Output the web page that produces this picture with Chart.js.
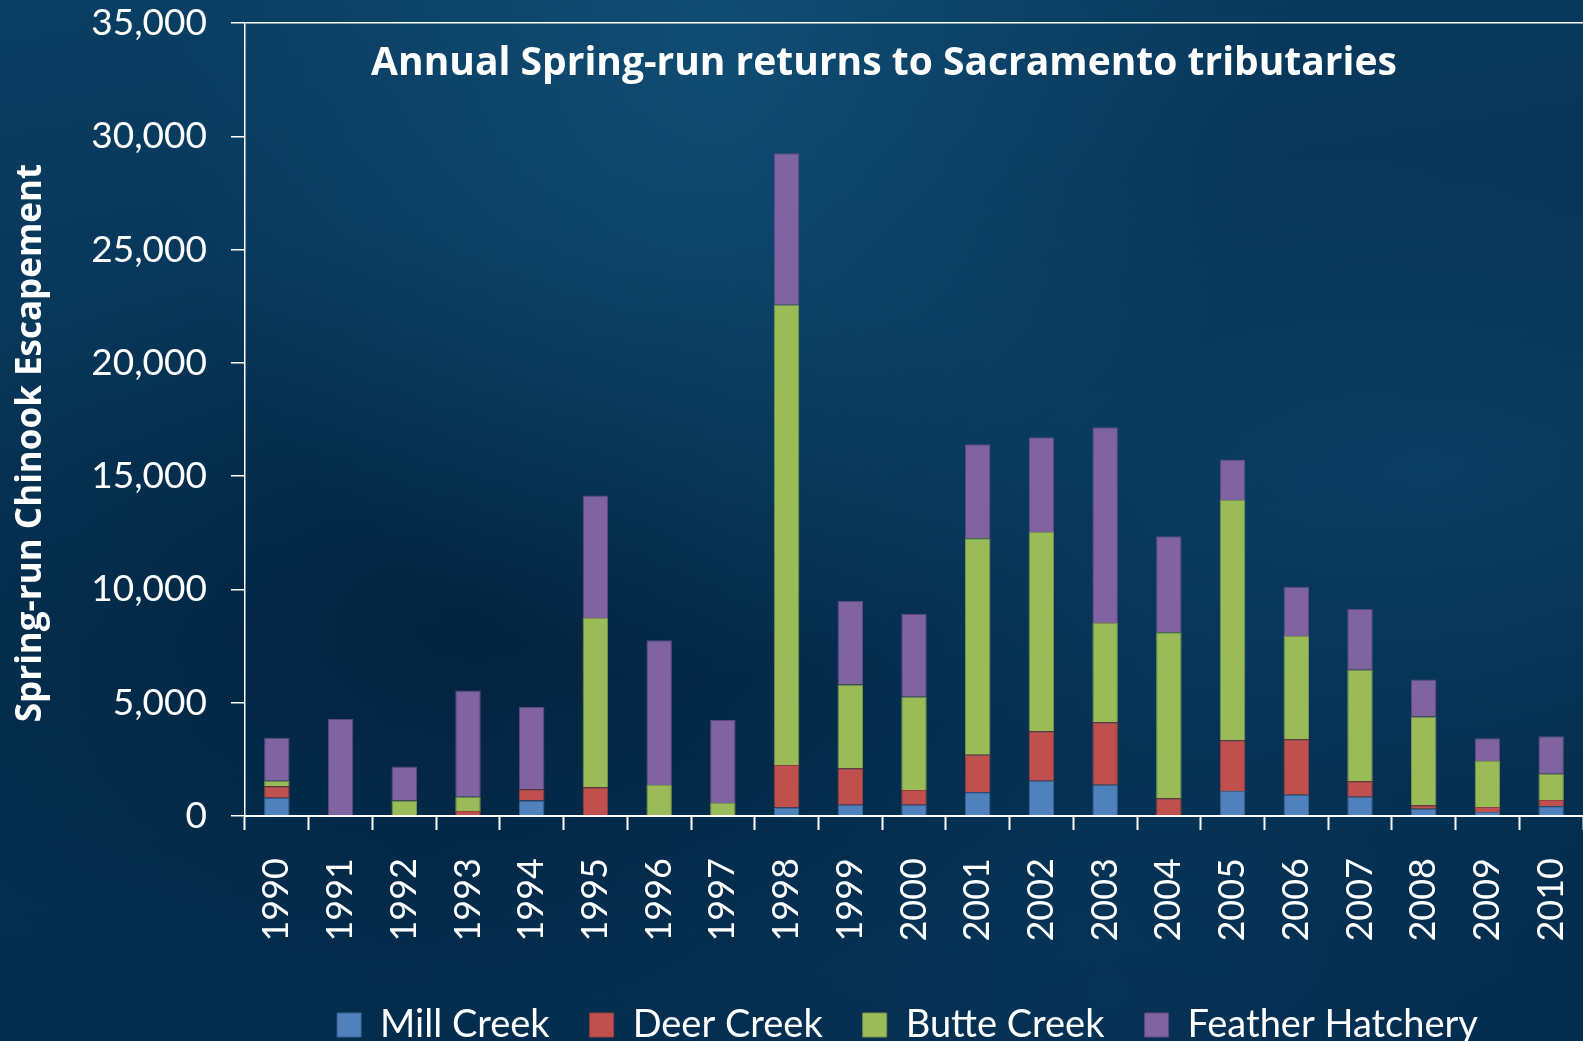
<!DOCTYPE html>
<html>
<head>
<meta charset="utf-8">
<script src="https://cdn.jsdelivr.net/npm/chart.js@4.4.1/dist/chart.umd.min.js"></script>
<style>
    html, body { margin: 0; padding: 0; }
    body {
        width: 1583px; height: 1041px; overflow: hidden;
        background:
            radial-gradient(ellipse at 45% 5%, rgba(20, 85, 125, 0.65), rgba(0,0,0,0) 45%),
            radial-gradient(ellipse at 90% 45%, rgba(15, 75, 115, 0.5), rgba(0,0,0,0) 40%),
            radial-gradient(ellipse at 30% 60%, rgba(0, 25, 50, 0.55), rgba(0,0,0,0) 45%),
            radial-gradient(ellipse at 70% 95%, rgba(10, 60, 100, 0.4), rgba(0,0,0,0) 45%),
            linear-gradient(170deg, #0a3e63 0%, #053152 50%, #022a4b 100%);
    }
    canvas { display: block; }
</style>
</head>
<body>
<canvas id="escChart" width="1583" height="1041"></canvas>
<script>
    // Data
    const years = ['1990', '1991', '1992', '1993', '1994', '1995', '1996', '1997', '1998', '1999', '2000',
                   '2001', '2002', '2003', '2004', '2005', '2006', '2007', '2008', '2009', '2010'];
    const millCreek = [810, 0, 0, 0, 680, 0, 0, 0, 370, 500, 500, 1050, 1560, 1380, 0, 1100, 940, 850, 320, 180, 430];
    const deerCreek = [500, 0, 0, 220, 500, 1270, 0, 0, 1880, 1610, 650, 1650, 2180, 2760, 780, 2240, 2450, 680, 150, 220, 280];
    const butteCreek = [250, 0, 680, 630, 0, 7470, 1370, 570, 20310, 3690, 4110, 9560, 8790, 4380, 7330, 10610, 4550, 4930, 3920, 2030, 1150];
    const featherHatchery = [1890, 4280, 1510, 4690, 3640, 5410, 6390, 3670, 6690, 3700, 3660, 4150, 4190, 8640, 4240, 1790, 2180, 2680, 1630, 1000, 1660];
    const yTicks = [0, 5000, 10000, 15000, 20000, 25000, 30000, 35000];

    const FONT = 'Lato, "Open Sans", sans-serif';
    const borderW = (ctx) => (ctx.raw ? 1 : 0);

    // Title inside the plot area, y-axis title, and legend nudged right
    const textPlugin = {
        id: 'extraText',
        afterLayout(chart) {
            chart.legend.left += 116;
            chart.legend.right += 116;
        },
        afterDraw(chart) {
            const c = chart.ctx;
            c.save();
            c.fillStyle = '#ffffff';
            c.font = 'bold 39px "Open Sans", sans-serif';
            c.textAlign = 'center';
            c.textBaseline = 'middle';
            c.fillText('Annual Spring-run returns to Sacramento tributaries', 884, 64);

            c.translate(31, 443);
            c.rotate(-Math.PI / 2);
            c.font = 'bold 35px "Open Sans", sans-serif';
            c.fillText('Spring-run Chinook Escapement', 0, 0);
            c.restore();
        }
    };

    Chart.defaults.color = '#ffffff';
    Chart.defaults.font.family = FONT;

    const ctx = document.getElementById('escChart').getContext('2d');
    new Chart(ctx, {
        type: 'bar',
        data: {
            labels: years,
            datasets: [
                { label: 'Mill Creek', data: millCreek, backgroundColor: '#4F81BD', borderColor: '#3b6491', borderWidth: borderW },
                { label: 'Deer Creek', data: deerCreek, backgroundColor: '#C0504D', borderColor: '#94403d', borderWidth: borderW },
                { label: 'Butte Creek', data: butteCreek, backgroundColor: '#9BBB59', borderColor: '#7a9446', borderWidth: borderW },
                { label: 'Feather Hatchery', data: featherHatchery, backgroundColor: '#8064A2', borderColor: '#5e4a7a', borderWidth: borderW }
            ]
        },
        options: {
            responsive: false,
            animation: false,
            layout: { padding: { top: 23, right: 0, left: 0, bottom: -13 } },
            datasets: { bar: { barPercentage: 0.4, categoryPercentage: 1.0 } },
            scales: {
                x: {
                    stacked: true,
                    grid: { drawOnChartArea: false, tickLength: 14, tickColor: '#ffffff', tickWidth: 2 },
                    border: { display: true, color: '#ffffff', width: 2 },
                    ticks: { color: '#ffffff', font: { size: 36 }, minRotation: 90, maxRotation: 90, padding: 28 },
                    afterFit(scale) {
                        scale.height = 150;
                        scale.paddingLeft = 0;
                        scale.paddingRight = 0;
                    }
                },
                y: {
                    stacked: true,
                    min: 0,
                    max: 35000,
                    afterBuildTicks(scale) { scale.ticks = yTicks.map(v => ({ value: v })); },
                    grid: {
                        color: (c) => (c.tick && c.tick.value === 35000 ? '#ffffff' : 'rgba(0,0,0,0)'),
                        lineWidth: 1.5,
                        tickLength: 14,
                        tickColor: '#ffffff'
                    },
                    border: { display: true, color: '#ffffff', width: 1.5 },
                    ticks: {
                        color: '#ffffff',
                        font: { size: 37 },
                        padding: 24,
                        callback: (v) => Number(v).toLocaleString('en-US')
                    },
                    afterFit(scale) {
                        scale.width = 245;
                        scale.paddingTop = 0;
                        scale.paddingBottom = 0;
                    }
                }
            },
            plugins: {
                legend: {
                    position: 'bottom',
                    labels: {
                        color: '#ffffff',
                        font: { size: 38 },
                        boxWidth: 24,
                        boxHeight: 24,
                        padding: 40
                    }
                },
                tooltip: { enabled: false }
            }
        },
        plugins: [textPlugin]
    });
</script>
</body>
</html>
